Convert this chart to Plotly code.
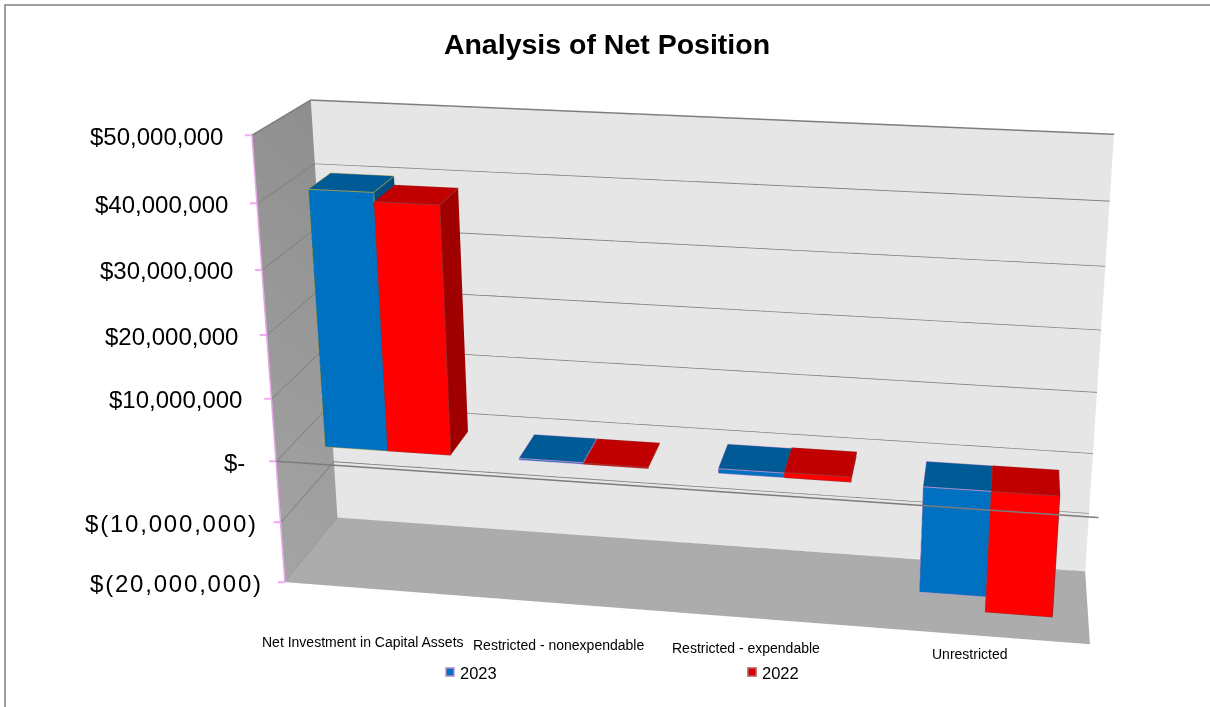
import plotly.graph_objects as go

categories = ["Net Investment in Capital Assets", "Restricted - nonexpendable", "Restricted - expendable", "Unrestricted"]
series_names = ["2023", "2022"]
values_2023 = [40600000, 200000, 700000, -17000000]
values_2022 = [39200000, 150000, 800000, -19500000]
tick_values = [50000000, 40000000, 30000000, 20000000, 10000000, 0, -10000000, -20000000]
tick_labels = ["$50,000,000", "$40,000,000", "$30,000,000", "$20,000,000", "$10,000,000", "$-", "$(10,000,000)", "$(20,000,000)"]
title = "Analysis of Net Position"

COLORS = {"2023": ("#0070C0", "#005A96", "#004E80"), "2022": ("#FF0000", "#C00000", "#A00000")}
EDGE = {"2023": ["#9A9A50", "#B58AC8", "#B58AC8", "#B58AC8"], "2022": ["#A03030"] * 4}
BAR_W, GAP, D0, D1 = 0.325, 0.175, 0.28, 0.68
ZMIN, ZMAX = tick_values[-1], tick_values[0]
XMAX = len(categories)

# The reference has a much flatter perspective than a 707 px scene, so the scene is larger
# than the window and the window looks at the part of it that holds the chart.
FIG_W, FIG_H, TOP_OFFSET = 1555, 1491, 545
def px(x): return x / FIG_W
def py(y): return 1 - (y + TOP_OFFSET) / FIG_H
FONT = "Liberation Sans"

fig = go.Figure()
flat = dict(ambient=1, diffuse=0, specular=0, fresnel=0)

def panel(xs, ys, zs, colors):
    fig.add_trace(go.Mesh3d(x=xs, y=ys, z=zs, i=[0, 0], j=[1, 2], k=[2, 3], vertexcolor=colors,
                            lighting=flat, hoverinfo="skip", showlegend=False))

panel([0, 0, 0, 0], [0, 1, 1, 0], [ZMIN, ZMIN, ZMAX, ZMAX], ["#A4A4A4", "#A0A0A0", "#8E8E8E", "#929292"])
panel([0, XMAX, XMAX, 0], [1, 1, 1, 1], [ZMIN, ZMIN, ZMAX, ZMAX], ["#E6E6E6"] * 4)
panel([0, XMAX, XMAX, 0], [0, 0, 1, 1], [ZMIN, ZMIN, ZMIN, ZMIN], ["#ACACAC"] * 4)

gx, gy, gz = [], [], []
for t in tick_values:
    gx += [0, 0, XMAX, None]; gy += [0, 1, 1, None]; gz += [t, t, t, None]
fig.add_trace(go.Scatter3d(x=gx, y=gy, z=gz, mode="lines", line=dict(color="#7C7C7C", width=3), hoverinfo="skip", showlegend=False))

def bars(values, slot, name):
    xs, ys, zs, I, J, K, fc = [], [], [], [], [], [], []
    front, top, side = COLORS[name]
    edges = {}
    for c, v in enumerate(values):
        x0 = c + GAP + slot * BAR_W
        x1 = x0 + BAR_W
        z0, z1 = min(0, v), max(0, v)
        n = len(xs)
        for a, b, d in [(x0, D0, z0), (x1, D0, z0), (x1, D1, z0), (x0, D1, z0), (x0, D0, z1), (x1, D0, z1), (x1, D1, z1), (x0, D1, z1)]:
            xs.append(a); ys.append(b); zs.append(d)
        faces = [((0, 1, 5), front), ((0, 5, 4), front), ((1, 2, 6), side), ((1, 6, 5), side),
                 ((4, 5, 6), top), ((4, 6, 7), top), ((0, 1, 2), top), ((0, 2, 3), top),
                 ((3, 0, 4), side), ((3, 4, 7), side), ((2, 3, 7), side), ((2, 7, 6), side)]
        for (p, q, r), col in faces:
            I.append(n + p); J.append(n + q); K.append(n + r); fc.append(col)
        ex, ey, ez = edges.setdefault(EDGE[name][c], ([], [], []))
        for path in [(4, 5, 6, 7, 4), (0, 1, 5), (0, 4)]:
            for p in path:
                ex.append(xs[n + p]); ey.append(ys[n + p]); ez.append(zs[n + p])
            ex.append(None); ey.append(None); ez.append(None)
    fig.add_trace(go.Mesh3d(x=xs, y=ys, z=zs, i=I, j=J, k=K, facecolor=fc, flatshading=True, name=name,
                            lighting=flat, hoverinfo="skip", showlegend=False))
    for col, (ex, ey, ez) in edges.items():
        fig.add_trace(go.Scatter3d(x=ex, y=ey, z=ez, mode="lines", line=dict(color=col, width=2), hoverinfo="skip", showlegend=False))

bars(values_2023, 0, series_names[0])
bars(values_2022, 1, series_names[1])

fig.add_trace(go.Scatter3d(x=[0, XMAX], y=[0, 0], z=[0, 0], mode="lines", line=dict(color="#7C7C7C", width=3), hoverinfo="skip", showlegend=False))
fig.add_trace(go.Scatter3d(x=[0, 0], y=[0, 0], z=[ZMIN, ZMAX], mode="lines", line=dict(color="#F5A8F5", width=3), hoverinfo="skip", showlegend=False))

scene_anns = []
for t, s in zip(tick_values, tick_labels):
    text = s if t >= 0 else '<span style="letter-spacing:1.8px">' + s + "</span>"
    shift = -27 if t > 0 else (-29 if t == 0 else -20)
    scene_anns.append(dict(x=0, y=0, z=t, text=text, showarrow=False, xanchor="right", yanchor="middle", xshift=shift, yshift=-1,
                           font=dict(family=FONT, size=24, color="black")))
    scene_anns.append(dict(x=0, y=0, z=t, text=" ", showarrow=True, ax=-10, ay=0, arrowhead=0, arrowwidth=2, arrowcolor="#F5A8F5"))

label_pos = [(363, 642), (558, 645), (746, 648), (969, 654)]
annotations = [dict(xref="paper", yref="paper", x=px(a), y=py(b), text=s, showarrow=False, xanchor="center", yanchor="middle",
                    font=dict(family=FONT, size=14, color="black")) for s, (a, b) in zip(categories, label_pos)]
legend_pos = [(450, 672), (752, 672)]
legend_colors = [("#0070C0", "#B58AC8"), ("#E00000", "#A86060")]
shapes = [dict(type="rect", xref="paper", yref="paper", x0=px(5), x1=px(1300), y0=py(5), y1=py(800), line=dict(color="#808080", width=1.5))]
for s, (a, b), (fillc, linec) in zip(series_names, legend_pos, legend_colors):
    annotations.append(dict(xref="paper", yref="paper", x=px(a + 9), y=py(b + 1), text=s, showarrow=False, xanchor="left", yanchor="middle",
                            xshift=-1, font=dict(family=FONT, size=16.5, color="black")))
    shapes.append(dict(type="rect", xref="paper", yref="paper", x0=px(a - 4), x1=px(a + 4), y0=py(b - 4), y1=py(b + 4),
                       fillcolor=fillc, line=dict(color=linec, width=1.5)))

hidden = dict(visible=False, showbackground=False, showticklabels=False, showgrid=False, zeroline=False, showline=False, ticks="", title="", showspikes=False)
fig.update_layout(
    width=FIG_W, height=FIG_H, margin=dict(l=0, r=0, t=0, b=0), paper_bgcolor="white", showlegend=False,
    title=dict(text="<b>" + title + "</b>", x=px(607), xanchor="center", y=py(44), yanchor="middle",
               font=dict(family=FONT, size=28.5, color="black")),
    annotations=annotations, shapes=shapes,
    scene=dict(
        domain=dict(x=[0, 1], y=[0, 1]), dragmode="orbit",
        aspectmode="manual", aspectratio=dict(x=1.7251, y=0.3154, z=1),
        camera=dict(eye=dict(x=0.6361, y=-3.4928, z=1.4083), center=dict(x=0.1937, y=-0.0685, z=0.3895),
                    up=dict(x=-0.0478, y=0.2792, z=0.9591), projection=dict(type="perspective")),
        xaxis=dict(range=[-0.004, XMAX + 0.004], **hidden),
        yaxis=dict(range=[-0.004, 1.004], **hidden),
        zaxis=dict(range=[ZMIN - 60000, ZMAX + 60000], **hidden),
        annotations=scene_anns,
    ),
)

post = """
var gd = document.getElementById('{plot_id}');
var box = gd.parentElement;
document.documentElement.style.overflow = 'hidden';
document.body.style.margin = '0';
document.body.style.overflow = 'hidden';
box.style.position = 'fixed'; box.style.left = '0'; box.style.top = '0';
box.style.width = '1210px'; box.style.height = '707px'; box.style.overflow = 'hidden';
gd.style.marginTop = '-%dpx';
""" % TOP_OFFSET
fig.write_html("out.html", post_script=post)
